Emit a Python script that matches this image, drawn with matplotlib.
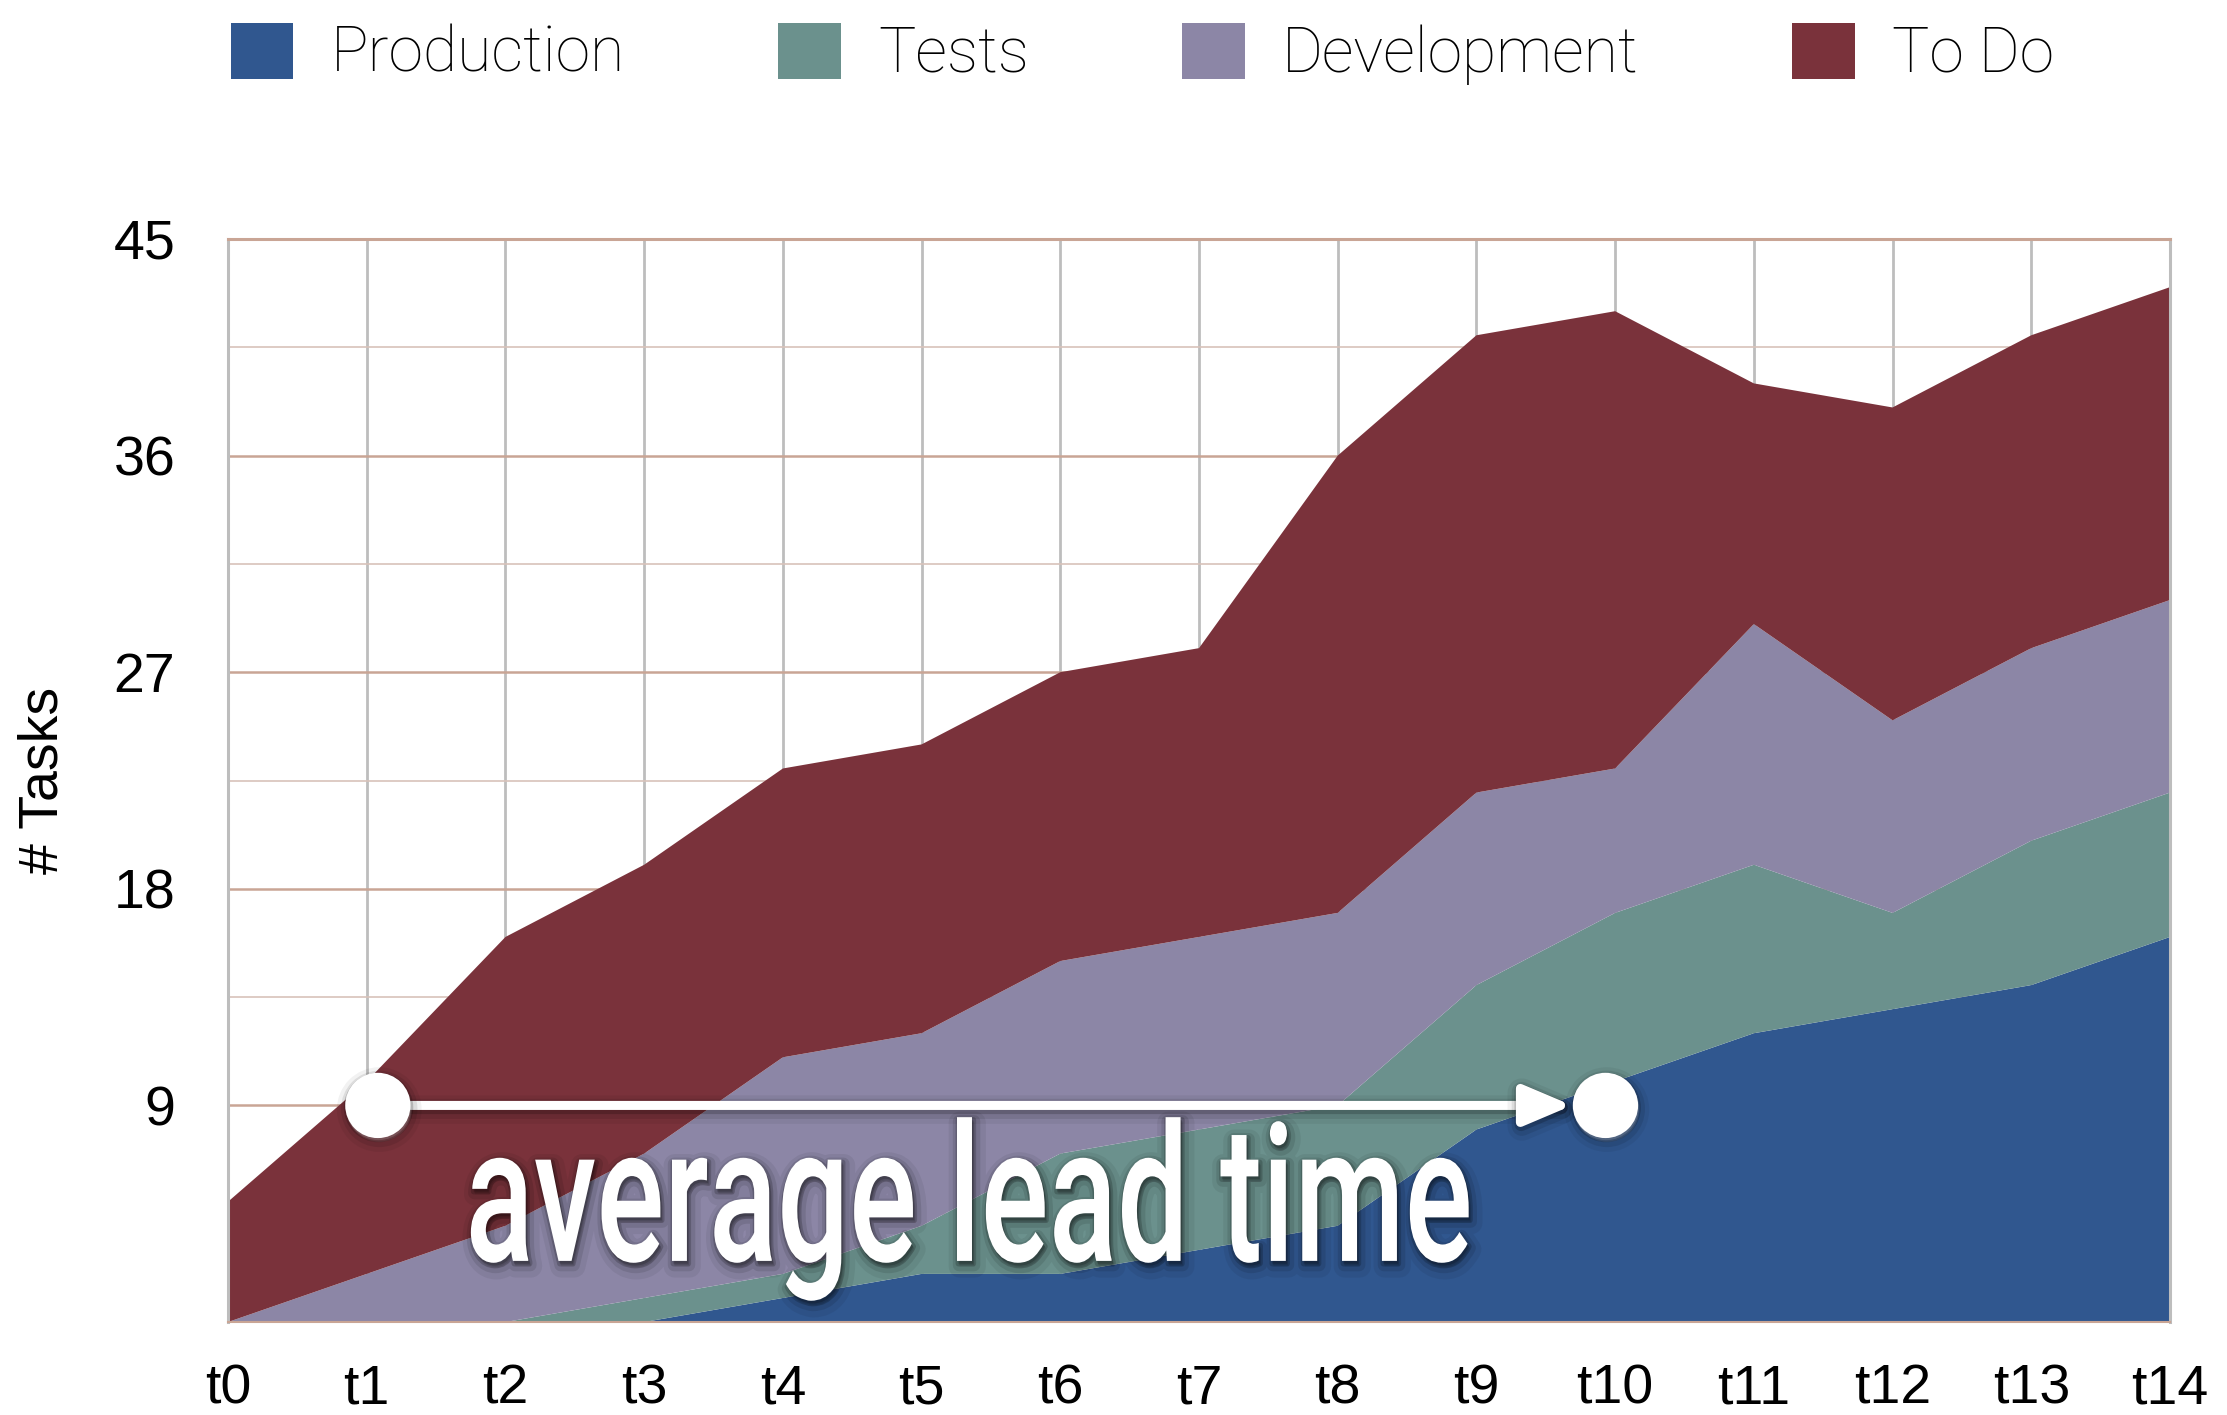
import matplotlib
matplotlib.use("Agg")
import matplotlib.pyplot as plt
import matplotlib.patheffects as pe
from matplotlib.patheffects import AbstractPathEffect
from matplotlib.transforms import Affine2D
from matplotlib.colors import to_rgba
from matplotlib.patches import Patch

# ---------------- data ----------------
periods = [f"t{i}" for i in range(15)]
production = [0, 0, 0, 0, 1, 2, 2, 3, 4, 8, 10, 12, 13, 14, 16]
tests = [0, 0, 0, 1, 1, 2, 5, 5, 5, 6, 7, 7, 4, 6, 6]
development = [0, 2, 4, 6, 9, 8, 8, 8, 8, 8, 6, 10, 8, 8, 8]
todo = [5, 8, 12, 12, 12, 12, 12, 12, 19, 19, 19, 10, 13, 13, 13]
series_labels = ["Production", "Tests", "Development", "To Do"]
series_colors = ["#30578F", "#6B918D", "#8C86A6", "#7A323B"]
y_ticks = [0, 9, 18, 27, 36, 45]
y_ticklabels = ["", "9", "18", "27", "36", "45"]
y_minor = [4.5, 13.5, 22.5, 31.5, 40.5]
lead_start, lead_end, lead_level = 1.08, 9.93, 9
annotation_text = "average lead time"
y_label = "# Tasks"


class CondensedGlyphs(AbstractPathEffect):
    """Draw text glyphs horizontally condensed (optionally as a soft shadow)."""

    def __init__(self, sx=0.66, color=None, alpha=1.0, linewidth=0.0, offset=(0, 0)):
        super().__init__(offset)
        self.sx = sx
        self.color = color
        self.alpha = alpha
        self.linewidth = linewidth

    def draw_path(self, renderer, gc, tpath, affine, rgbFace=None):
        gc0 = renderer.new_gc()
        gc0.copy_properties(gc)
        face = rgbFace
        if self.color is not None:
            face = to_rgba(self.color, self.alpha)
            gc0.set_alpha(self.alpha)
        if self.linewidth > 0:
            gc0.set_linewidth(self.linewidth)
            gc0.set_foreground(to_rgba(self.color, self.alpha))
            gc0.set_joinstyle("round")
        else:
            gc0.set_linewidth(0)
        new_affine = Affine2D().scale(self.sx, 1.0) + affine + self._offset_transform(renderer)
        renderer.draw_path(gc0, tpath, new_affine, face)
        gc0.restore()


fig = plt.figure(figsize=(22.27, 14.15), dpi=100)
ax = fig.add_axes([0.1024, 0.0657, 0.8720, 0.7654])

x = list(range(len(periods)))
ax.stackplot(x, production, tests, development, todo,
             colors=series_colors, labels=series_labels, linewidth=0, zorder=2)

ax.set_xlim(0, len(periods) - 1)
ax.set_ylim(0, 45)
ax.set_xticks(x)
ax.set_xticklabels(periods)
ax.set_yticks(y_ticks)
ax.set_yticklabels(y_ticklabels)
ax.set_yticks(y_minor, minor=True)

ax.set_axisbelow(True)
ax.grid(axis="x", which="major", color="#BDBDBD", linewidth=2.0)
ax.grid(axis="y", which="major", color="#C9A595", linewidth=1.8)
ax.grid(axis="y", which="minor", color="#D8C2BA", linewidth=1.2)

for side in ["left", "right"]:
    ax.spines[side].set_color("#BDBDBD")
    ax.spines[side].set_linewidth(2.2)
ax.spines["top"].set_color("#C9A595")
ax.spines["top"].set_linewidth(2.2)
ax.spines["bottom"].set_color("#C9A595")
ax.spines["bottom"].set_linewidth(1.5)

ax.tick_params(axis="both", which="both", length=0)
ax.tick_params(axis="y", pad=38)
ax.tick_params(axis="x", pad=30)
for lab in ax.get_xticklabels() + ax.get_yticklabels():
    lab.set_fontfamily(["Liberation Sans", "DejaVu Sans"])
    lab.set_fontsize(40)

fig.text(44 / 2227, 1 - 780 / 1415, y_label, rotation=90, ha="center", va="center",
         fontsize=40, family=["Liberation Sans", "DejaVu Sans"])

# legend
handles = [Patch(facecolor=c, edgecolor="none") for c in series_colors]
fig.legend(handles, series_labels, loc="center left", bbox_to_anchor=(0.1037, 0.962),
           ncol=4, frameon=False, borderpad=0, borderaxespad=0,
           handlelength=1.0, handleheight=1.0, handletextpad=0.6, columnspacing=2.45,
           prop={"family": ["Roboto", "DejaVu Sans"], "weight": "light", "size": 45})

# annotation: lead time arrow with circles
glow = lambda lw: [
    pe.Stroke(linewidth=lw + 14, foreground="black", alpha=0.05, offset=(1, -3)),
    pe.Stroke(linewidth=lw + 8, foreground="black", alpha=0.09, offset=(1, -2.5)),
    pe.Stroke(linewidth=lw + 3, foreground="black", alpha=0.18, offset=(0.5, -1.5)),
    pe.Normal(),
]
ax.annotate("", xy=(lead_end, lead_level), xytext=(lead_start, lead_level),
            arrowprops=dict(arrowstyle="-|>,head_length=0.85,head_width=0.36",
                            mutation_scale=34, color="white", lw=6.5,
                            shrinkA=22, shrinkB=24, path_effects=glow(6.5)),
            zorder=5)
ax.plot([lead_start, lead_end], [lead_level, lead_level], linestyle="none",
        marker="o", markersize=47, markerfacecolor="white", markeredgewidth=0,
        zorder=6, path_effects=glow(0))

# condensed annotation text with shadow
sx = 0.66
ax.text(1.71, 2.54, annotation_text, ha="left", va="baseline", fontsize=138,
        family=["Roboto", "DejaVu Sans"], weight="medium", color="white", zorder=7,
        path_effects=[
            CondensedGlyphs(sx, color="black", alpha=0.06, linewidth=16, offset=(2, -4)),
            CondensedGlyphs(sx, color="black", alpha=0.10, linewidth=9, offset=(1.5, -3)),
            CondensedGlyphs(sx, color="black", alpha=0.18, linewidth=4, offset=(1, -2)),
            CondensedGlyphs(sx),
        ])

fig.savefig("out.png", dpi=100, facecolor="white")
